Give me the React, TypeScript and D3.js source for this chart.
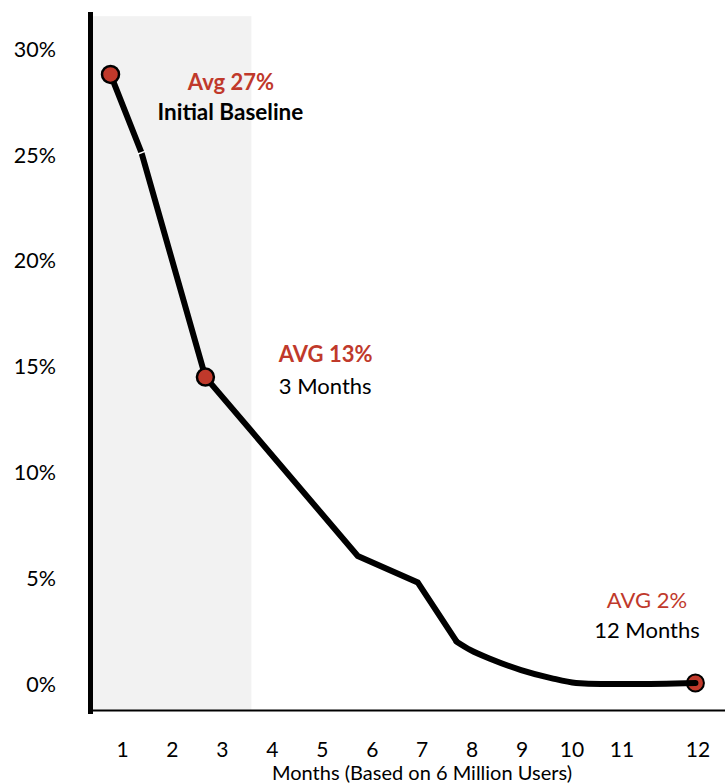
import React from 'react';
import * as d3 from 'd3';

// ---- data ----
const yTicks = [0, 5, 10, 15, 20, 25, 30];
const xTickLabels = ['1', '2', '3', '4', '5', '6', '7', '8', '9', '10', '11', '12'];
const xTickMonths = [1, 2, 3, 4, 5, 6, 7, 8, 9, 10, 11, 12.52];

// straight-segment part of the curve
const headMonths = [0.76, 1.38, 2.66, 5.71, 6.91, 7.69];
const headValues = [28.8, 25.1, 14.5, 6.05, 4.8, 2.0];
// smooth tail
const tailMonths = [7.69, 7.97, 8.37, 8.98, 9.58, 10.08, 10.58, 11.18, 12.47];
const tailValues = [2.0, 1.6, 1.18, 0.66, 0.28, 0.05, 0.0, 0.0, 0.05];

const markerMonths = [0.76, 2.66, 12.47];
const markerValues = [28.8, 14.5, 0.05];

const shadeMonths = [0.41, 3.58];
const shadeTop = 31.55;

const annoText = ['Avg 27%', 'Initial Baseline', 'AVG 13%', '3 Months', 'AVG 2%', '12 Months'];
const annoMonth = [3.17, 3.16, 4.13, 4.13, 11.5, 11.5];
const annoValue = [28.06, 26.64, 15.21, 13.7, 3.59, 2.17];
const annoRed = [true, false, true, false, true, false];
const annoBold = [true, true, true, false, false, false];
const annoAnchor = ['middle', 'middle', 'start', 'start', 'middle', 'middle'];

const xTitle = 'Months (Based on 6 Million Users)';

const W = 725;
const H = 783;
const RED = '#c0392b';
const FONT = 'Lato, "Open Sans", sans-serif';

export default function App() {
  const x = d3.scaleLinear().domain([1, 11]).range([122.5, 622]);
  const y = d3.scaleLinear().domain([0, 30]).range([684, 49]);

  const headPts: [number, number][] = headMonths.map((m, i) => [x(m), y(headValues[i])]);
  const tailPts: [number, number][] = tailMonths.map((m, i) => [x(m), y(tailValues[i])]);
  const headPath = d3.line().curve(d3.curveLinear)(headPts) || '';
  const tailPath = d3.line().curve(d3.curveMonotoneX)(tailPts) || '';

  const axisX = 90.5;
  const axisY = 710.5;

  // small break in line at second point
  const [gx, gy] = headPts[1];
  const dx = headPts[1][0] - headPts[0][0];
  const dy = headPts[1][1] - headPts[0][1];
  const len = Math.hypot(dx, dy);
  const px = -dy / len;
  const py = dx / len;

  return (
    <svg width={W} height={H} style={{ position: 'absolute', left: 0, top: 0, background: '#fff' }}>
      <rect x={x(shadeMonths[0])} y={y(shadeTop)} width={x(shadeMonths[1]) - x(shadeMonths[0])}
        height={axisY - y(shadeTop)} fill="#f2f2f2" />
      {/* axes */}
      <line x1={88} x2={W} y1={axisY} y2={axisY} stroke="#000" strokeWidth={2} />
      <line x1={axisX} x2={axisX} y1={12} y2={714} stroke="#000" strokeWidth={5} />
      {yTicks.map(t => (
        <text key={t} x={56} y={y(t)} dy="0.36em" textAnchor="end" fontFamily={FONT} fontSize={21.5} fill="#000">
          {t}%
        </text>
      ))}
      {xTickLabels.map((l, i) => (
        <text key={l} x={x(xTickMonths[i])} y={756.5} textAnchor="middle" fontFamily={FONT} fontSize={21} fill="#000">
          {l}
        </text>
      ))}
      <text x={422} y={780} textAnchor="middle" fontFamily={FONT} fontSize={20} fill="#000">{xTitle}</text>

      {/* last marker under line */}
      <circle cx={x(markerMonths[2])} cy={y(markerValues[2])} r={8.5} fill={RED} stroke="#000" strokeWidth={2} />
      <path d={headPath} fill="none" stroke="#000" strokeWidth={6} strokeLinejoin="miter" />
      <path d={tailPath} fill="none" stroke="#000" strokeWidth={6} strokeLinecap="round" />
      <line x1={gx - px * 5} y1={gy - py * 5} x2={gx + px * 5} y2={gy + py * 5} stroke="#fff" strokeWidth={1.5} />
      {markerMonths.slice(0, 2).map((m, i) => (
        <circle key={i} cx={x(m)} cy={y(markerValues[i])} r={8.5} fill={RED} stroke="#000" strokeWidth={2.5} />
      ))}

      {annoText.map((t, i) => (
        <text key={t} x={x(annoMonth[i])} y={y(annoValue[i])} textAnchor={annoAnchor[i] as any}
          fontFamily={FONT} fontSize={annoBold[i] && !annoRed[i] ? 22.5 : 22} fontWeight={annoBold[i] ? 700 : 400}
          fill={annoRed[i] ? RED : '#000'}>
          {t}
        </text>
      ))}
    </svg>
  );
}
